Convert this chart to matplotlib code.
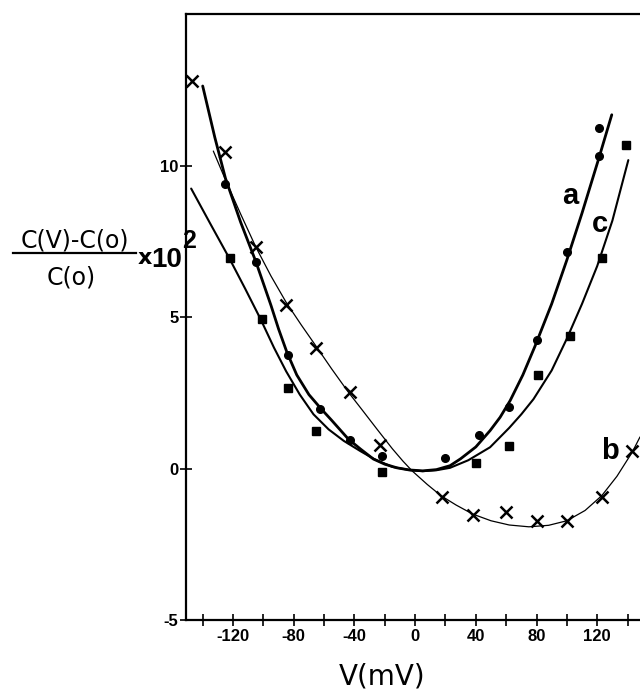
import numpy as np
import matplotlib.pyplot as plt
from matplotlib.lines import Line2D
from matplotlib.ticker import MultipleLocator

# measured points (V in mV, relative capacitance change x 10^2)
va = [-125, -105, -84, -63, -43, -22, 20, 42, 62, 80, 100, 121, 121]
ca = [9.4, 6.83, 3.77, 1.98, 0.95, 0.43, 0.34, 1.13, 2.03, 4.26, 7.16, 10.34, 11.27]

vb = [-147, -125, -105, -85, -65, -43, -23, 18, 38, 60, 80, 100, 123, 143]
cb = [12.8, 10.47, 7.33, 5.4, 4.0, 2.53, 0.78, -0.93, -1.52, -1.43, -1.72, -1.72, -0.93, 0.6]

vc = [-122, -101, -84, -65, -22, 40, 62, 81, 102, 123, 139]
cc = [6.98, 4.96, 2.67, 1.26, -0.12, 0.19, 0.74, 3.11, 4.4, 6.96, 10.7]

# hand drawn curves
fit_va = [-140, -132, -125, -115, -105, -95, -90, -84.5, -78, -70, -62.3, -55, -44, -36, -27.5,
          -20, -12, -4, 5, 14, 23, 30, 40, 49.4, 56, 62.6, 71, 79, 90, 100, 110, 121, 129.6]
fit_ca = [12.65, 10.95, 9.6, 8.15, 6.85, 5.4, 4.62, 3.85, 3.1, 2.45, 2.0, 1.6, 0.98, 0.65, 0.32,
          0.15, 0.03, -0.04, -0.07, -0.03, 0.1, 0.33, 0.72, 1.26, 1.7, 2.25, 3.1, 4.05, 5.45, 6.9, 8.45, 10.25, 11.7]

fit_vb = [-133, -125, -115, -105, -95, -85, -75, -65, -55, -44, -35, -25, -15, -8, -2, 8, 17,
          27, 38, 50, 62, 75, 88, 100, 112, 123, 133, 143, 148.2]
fit_cb = [10.5, 9.55, 8.42, 7.33, 6.37, 5.5, 4.75, 4.03, 3.3, 2.53, 1.95, 1.3, 0.66, 0.25, -0.07, -0.52, -0.89,
          -1.2, -1.5, -1.72, -1.86, -1.92, -1.87, -1.72, -1.38, -0.89, -0.25, 0.54, 1.05]

fit_vc = [-147.6, -135, -122.7, -112, -102, -93, -85, -76, -67, -57, -47, -36, -27, -15,
          -3, 5, 14, 23, 35, 49.4, 62, 70, 78, 90, 100, 110, 120, 130, 140.5]
fit_cc = [9.26, 8.1, 6.98, 5.95, 4.96, 4.0, 3.22, 2.45, 1.8, 1.3, 0.92, 0.58, 0.32, 0.06,
          -0.05, -0.08, -0.05, 0.03, 0.28, 0.71, 1.35, 1.8, 2.3, 3.25, 4.3, 5.45, 6.7, 8.2, 10.2]

xticks_major = [-120, -80, -40, 0, 40, 80, 120]
yticks = [-5, 0, 5, 10]

W, H = 640, 692
fig = plt.figure(figsize=(W / 100, H / 100), dpi=100)
ax = fig.add_axes([186 / W, 72 / H, 454 / W, 606 / H])

ax.plot(fit_va, fit_ca, color='black', lw=2.0, solid_capstyle='round', solid_joinstyle='round')
ax.plot(fit_vc, fit_cc, color='black', lw=1.5, solid_capstyle='round', solid_joinstyle='round')
ax.plot(fit_vb, fit_cb, color='black', lw=0.9, solid_capstyle='round', solid_joinstyle='round')

ax.plot(va, ca, 'o', color='black', ms=5.5, clip_on=False)
ax.plot(vc, cc, 's', color='black', ms=6, clip_on=False)
ax.plot(vb, cb, 'x', color='black', ms=8, mew=1.8, clip_on=False)

ax.set_xlim(-151, 148.2)
ax.set_ylim(-5, 15.03)

for s in ['left', 'top', 'bottom']:
    ax.spines[s].set_linewidth(1.6)
ax.spines['right'].set_visible(False)

ax.xaxis.set_major_locator(MultipleLocator(40))
ax.xaxis.set_minor_locator(MultipleLocator(20))
ax.set_xticks(xticks_major)
ax.set_yticks(yticks)
ax.tick_params(which='both', direction='inout', length=9, width=1.2, color='black')
ax.tick_params(axis='x', pad=2)
ax.tick_params(axis='y', pad=1)

tick_font = dict(family='Liberation Sans', weight='bold', size=12)
ax.set_xticklabels([str(t) for t in xticks_major], fontdict=tick_font)
ax.set_yticklabels([str(t) for t in yticks], fontdict=tick_font)

# curve labels
lab_font = dict(family='Liberation Sans', weight='bold', size=21, ha='center', va='center')
ax.text(102, 9.0, 'a', **lab_font)
ax.text(121.5, 8.1, 'c', **lab_font)
ax.text(128.5, 0.6, 'b', **lab_font)

# y label as a fraction
def fx(px):
    return px / W

def fy(py):
    return 1 - py / H

fig.text(fx(75), fy(248), 'C(V)-C(o)', ha='center', va='baseline', size=17, family='DejaVu Sans')
fig.text(fx(71), fy(284), 'C(o)', ha='center', va='baseline', size=17, family='DejaVu Sans')
fig.add_artist(Line2D([fx(13), fx(136)], [fy(252.5), fy(252.5)], transform=fig.transFigure,
                      color='black', lw=1.6))
fig.text(fx(138), fy(264), 'x', ha='left', va='baseline', size=16, weight='bold', family='DejaVu Sans')
fig.text(fx(151), fy(267), '10', ha='left', va='baseline', size=20, weight='bold', family='Liberation Sans')
fig.text(fx(182), fy(248), '2', ha='left', va='baseline', size=18, weight='bold', family='Liberation Sans')

fig.text(fx(382), fy(676), 'V(mV)', ha='center', va='center', size=20, family='DejaVu Sans')

fig.savefig('out.png', dpi=100)
